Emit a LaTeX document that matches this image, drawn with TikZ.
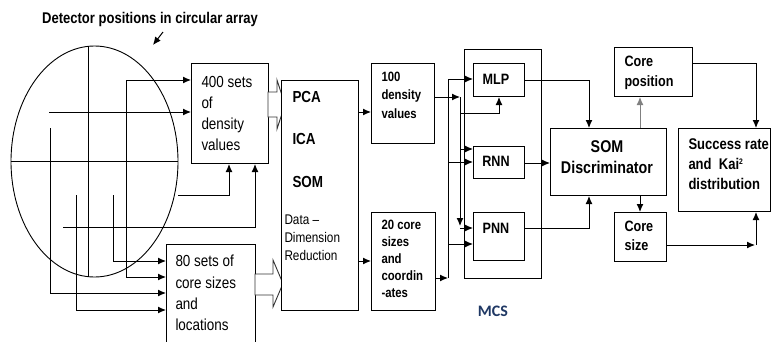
\documentclass[tikz,border=0pt]{standalone}
\usepackage{fontspec}
\setmainfont{Liberation Sans}
\newfontfamily\nar[FakeStretch=0.84]{Liberation Sans}
\newfontfamily\carl{Carlito}
\usetikzlibrary{arrows.meta,shapes.geometric}
\definecolor{mcsblue}{RGB}{31,56,100}
\begin{document}
\begin{tikzpicture}[x=1pt,y=-1pt,line width=1pt,
  arr/.style={-{Latex[length=8pt,width=7pt]}},
  arrs/.style={{Latex[length=8pt,width=7pt]}-{Latex[length=8pt,width=7pt]}},
  box/.style={draw, fill=white, inner sep=0pt, anchor=north west},
  blk/.style={draw=black!80, fill=white, line width=0.9pt},
  txt/.style={inner sep=0pt, align=left, anchor=west},
  reg/.style={font=\nar\fontsize{16}{21}\selectfont},
  bld/.style={font=\nar\bfseries\fontsize{15}{20}\selectfont}]
\useasboundingbox (0,0) rectangle (772,341);

% title
\node[inner sep=0pt, font=\nar\bfseries\fontsize{15.5}{19}\selectfont] (ttl) at (150,19) {Detector positions in circular array};
\coordinate (ta) at (163,32);
\coordinate (tb) at (153,45);
\draw[arr] (ta) -- (tb);

% circular array
\node[ellipse, draw, minimum width=167pt, minimum height=231pt, inner sep=0pt, line width=0.9pt] (circ) at (94.5,161.5) {};
\coordinate (vt) at (88,47);
\coordinate (vb) at (88,277);
\draw (vt) -- (vb);
\draw (circ.west) -- (circ.east);

% boxes
\node[box, minimum width=77pt, minimum height=100pt] (b400) at (191,63) {};
\node[box, minimum width=89pt, minimum height=105pt] (b80) at (166,244) {};

% block arrows
\draw[blk] (268,92) -- (277,92) -- (277,80) -- (285,104.5) -- (277,129) -- (277,117) -- (268,117) -- cycle;
\draw[blk] (255,274) -- (273,274) -- (273,260) -- (283,283.5) -- (273,307) -- (273,295) -- (255,295) -- cycle;

\node[box, minimum width=77pt, minimum height=230pt] (pca) at (281,80) {};
\node[box, minimum width=63pt, minimum height=80pt] (b100) at (371,63) {};
\node[box, minimum width=64pt, minimum height=98pt] (b20) at (371,212) {};
\node[draw, inner sep=0pt, anchor=north west, minimum width=77pt, minimum height=229pt] (mcs) at (464,49) {};
\node[box, minimum width=51pt, minimum height=33pt] (mlp) at (473,63) {};
\node[box, minimum width=51pt, minimum height=32pt] (rnn) at (473,146) {};
\node[box, minimum width=51pt, minimum height=48pt] (pnn) at (473,212) {};
\node[box, minimum width=116pt, minimum height=67pt] (som) at (550,128) {};
\node[box, minimum width=78pt, minimum height=49pt] (cpos) at (614,47) {};
\node[box, minimum width=52pt, minimum height=49pt] (csize) at (614,212) {};
\node[box, minimum width=92pt, minimum height=83pt] (succ) at (678,128) {};

% texts
\node[txt, reg] (t400) at (201,113) {400 sets\\of\\density\\values};
\node[txt, reg, font=\nar\fontsize{16}{21.3}\selectfont] (t80) at (175,293) {80 sets of\\core sizes\\and\\locations};
\node[txt, font=\nar\bfseries\fontsize{16}{19}\selectfont] (tpca) at (292,97) {PCA};
\node[txt, font=\nar\bfseries\fontsize{16}{19}\selectfont] (tica) at (292,139) {ICA};
\node[txt, font=\nar\bfseries\fontsize{16}{19}\selectfont] (tsom) at (292,182) {SOM};
\node[txt, font=\nar\fontsize{14}{18}\selectfont] (tdat) at (284,238) {Data \textendash\\Dimension\\Reduction};
\node[txt, font=\nar\bfseries\fontsize{13.5}{18.5}\selectfont] (t100) at (381,95) {100\\density\\values};
\node[txt, font=\nar\bfseries\fontsize{13.5}{17}\selectfont] (t20) at (381,259) {20 core\\sizes\\and\\coordin\\-ates};
\node[inner sep=0pt, bld] (tmlp) at (496,79) {MLP};
\node[inner sep=0pt, bld] (trnn) at (496,161) {RNN};
\node[inner sep=0pt, bld] (tpnn) at (496,228) {PNN};
\node[inner sep=0pt, align=center, font=\nar\bfseries\fontsize{17}{21}\selectfont] (tsd) at (607,157.5) {SOM\\Discriminator};
\node[txt, bld] (tcp) at (624,72.5) {Core\\position};
\node[txt, font=\nar\bfseries\fontsize{15}{19}\selectfont] (tcs) at (624,235.5) {Core\\size};
\node[txt, font=\nar\bfseries\fontsize{15.5}{20}\selectfont] (tsr) at (688,164) {Success rate\\and\ \ Kai\raisebox{5pt}{\fontsize{8}{8}\selectfont 2}\\distribution};
\node[inner sep=0pt, text=mcsblue, font=\carl\bfseries\fontsize{16}{19}\selectfont] (tmcs) at (493,311) {MCS};

% detector connectors
\coordinate (p1) at (126,80);
\coordinate (p2) at (126,277);
\draw[arrs] (p1 -| b400.west) -- (p1) -- (p2) -- (p2 -| b80.west);
\coordinate (q1) at (49,112);
\draw[arr] (q1) -- (q1 -| b400.west);
\coordinate (r1) at (50,128);
\coordinate (r2) at (50,293);
\draw[arr] (r1) -- (r2) -- (r2 -| b80.west);
\coordinate (s1) at (76,195);
\coordinate (s2) at (76,310);
\draw[arr] (s1) -- (s2) -- (s2 -| b80.west);
\coordinate (u1) at (113,195);
\coordinate (u2) at (113,261);
\draw[arr] (u1) -- (u2) -- (u2 -| b80.west);
\coordinate (v1) at (178,195);
\coordinate (v2) at (229,195);
\draw[arr] (v1) -- (v2) -- (v2 |- b400.south);
\coordinate (w1) at (63,227);
\coordinate (w2) at (255,227);
\draw[arr] (w1) -- (w2) -- (w2 |- b400.south);

% PCA outputs
\coordinate (x1) at (358,112);
\draw[arr] (x1) -- (x1 -| b100.west);
\coordinate (x2) at (358,261);
\draw[arr] (x2) -- (x2 -| b20.west);

% into networks
\coordinate (m0) at (434,97);
\coordinate (m1) at (460,97);
\coordinate (m2) at (460,226);
\coordinate (m3) at (460,228);
\coordinate (m4) at (460,113);
\coordinate (m5) at (499,113);
\coordinate (m6) at (460,149);
\draw[arr] (m0) -- (m1);
\draw[arr] (m1) -- (m2);
\draw[arr] (m3) -- (m3 -| pnn.west);
\draw[arr] (m4) -- (m5) -- (m5 |- mlp.south);
\draw[arr] (m6) -- (m6 -| rnn.west);

\coordinate (n0) at (435,278);
\coordinate (n1) at (448,278);
\coordinate (n2) at (448,79);
\coordinate (n3) at (448,162);
\coordinate (n4) at (448,244);
\draw[arr] (n0) -- (n1);
\draw[arr] (n1) -- (n2) -- (n2 -| mlp.west);
\draw[arr] (n3) -- (n3 -| rnn.west);
\draw[arr] (n4) -- (n4 -| pnn.west);

% networks to SOM
\coordinate (o1) at (589,80);
\draw[arr] (o1 -| mlp.east) -- (o1) -- (o1 |- som.north);
\coordinate (o2) at (524,163);
\draw[arr] (o2) -- (o2 -| som.west);
\coordinate (o3) at (589,228);
\draw[arr] (o3 -| pnn.east) -- (o3) -- (o3 |- som.south);

% SOM outputs
\coordinate (k1) at (640,128);
\draw[arr, draw=gray] (k1) -- (k1 |- cpos.south);
\coordinate (k2) at (640,195);
\draw[arr] (k2) -- (k2 |- csize.north);
\coordinate (k3) at (756,63);
\draw[arr] (k3 -| cpos.east) -- (k3) -- (k3 |- succ.north);
\coordinate (k4) at (755,245);
\coordinate (k5) at (756,245);
\draw[arr] (k4 -| csize.east) -- (k4);
\draw[arr] (k5) -- (k5 |- succ.south);
\end{tikzpicture}
\end{document}
